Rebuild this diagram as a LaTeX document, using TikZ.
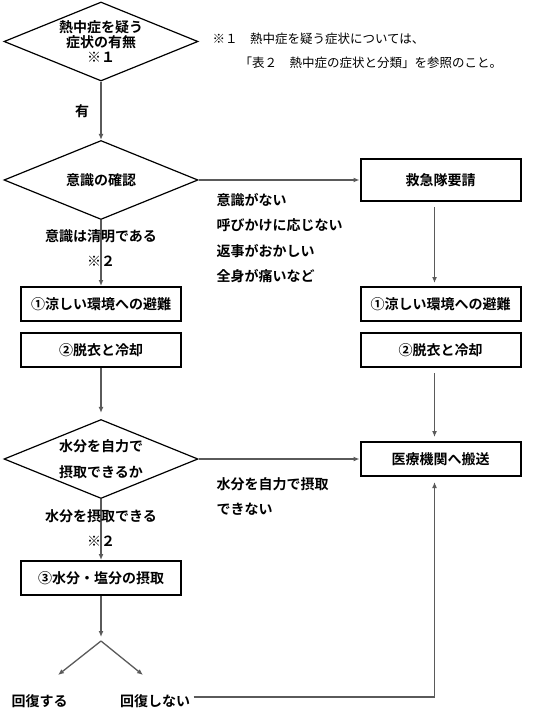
\documentclass[tikz,border=0pt]{standalone}
\usepackage{fontspec}
\setmainfont{Noto Sans CJK JP}[BoldFont={Noto Sans CJK JP Bold}]
\usetikzlibrary{shapes.geometric,arrows.meta}
\definecolor{linegray}{HTML}{5A5A5A}

\begin{document}
\begin{tikzpicture}[x=1pt,y=-1pt]

        \useasboundingbox (0,0) rectangle (552,708);

        \begin{scope}[every node/.style={diamond,aspect=2.46,draw,line width=1.2pt,inner sep=0pt,
            minimum width=194pt,minimum height=79pt,align=center,
            font=\bfseries\fontsize{14}{15}\selectfont}]
          \node (1) at (101,41.5) {熱中症を疑う\\症状の有無\\※１};
          \node (2) at (101,180) {意識の確認};
          \node[font=\bfseries\fontsize{14}{26}\selectfont] (8) at (101,459) {水分を自力で\\摂取できるか};
        \end{scope}

        \begin{scope}[every node/.style={rectangle,draw,line width=2pt,
            minimum width=160pt,minimum height=34pt,
            font=\bfseries\fontsize{14}{16}\selectfont}]
          \node[minimum height=42pt] (3) at (440.5,180) {救急隊要請};
          \node (4) at (101,304) {①涼しい環境への避難};
          \node (5) at (101,350) {②脱衣と冷却};
          \node (6) at (440.5,304) {①涼しい環境への避難};
          \node (7) at (440.5,350) {②脱衣と冷却};
          \node (9) at (440.5,459) {医療機関へ搬送};
          \node (10) at (101,578) {③水分・塩分の摂取};
        \end{scope}

        \begin{scope}[every node/.style={align=left,font=\bfseries\fontsize{14}{25.3}\selectfont}]
          \node (11) at (39.5,701) {回復する};
          \node (12) at (155,701) {回復しない};
          \node[anchor=west] (13) at (213,238) {意識がない\\呼びかけに応じない\\返事がおかしい\\全身が痛いなど};
          \node[anchor=west] (14) at (213,496.5) {水分を自力で摂取\\できない};
        \end{scope}

        \begin{scope}[every node/.style={anchor=west,font=\fontsize{12.5}{14}\selectfont}]
          \node (15) at (209,39) {※１　熱中症を疑う症状については、};
          \node (16) at (236,63) {「表２　熱中症の症状と分類」を参照のこと。};
        \end{scope}

        \coordinate (j)  at (101,641);
        \coordinate (j1) at (58,675);
        \coordinate (j2) at (143,675);

        \begin{scope}[every node/.style={align=center,font=\bfseries\fontsize{14}{25}\selectfont}]

          \begin{scope}[every edge/.style={draw=linegray,line width=1.3pt,-{Latex[length=6pt,width=5pt]}}]
            \path (1)  edge node[left=8pt] {有} (2);
            \path (2)  edge (3);
            \path (2)  edge node[pos=.43] {意識は清明である\\※２} (4);
            \path ([xshift=-6pt]3.south) edge[shorten <=5pt,shorten >=3pt] ([xshift=-6pt]6.north);
            \path (5)  edge[shorten >=6pt] (8);
            \path ([xshift=-6pt]7.south) edge[shorten <=5pt,shorten >=4pt] ([xshift=-6pt]9.north);
            \path (8)  edge (9);
            \path (8)  edge node[pos=.47] {水分を摂取できる\\※２} (10);
            \path (10) edge[shorten >=4pt] (j);
            \path (j)  edge (j1);
            \path (j)  edge (j2);
            \path ([yshift=4pt]12.east) edge[to path={-| (\tikztotarget)},shorten >=5pt] ([xshift=-6pt]9.south);
          \end{scope}
        \end{scope}

      \end{tikzpicture}
\end{document}
